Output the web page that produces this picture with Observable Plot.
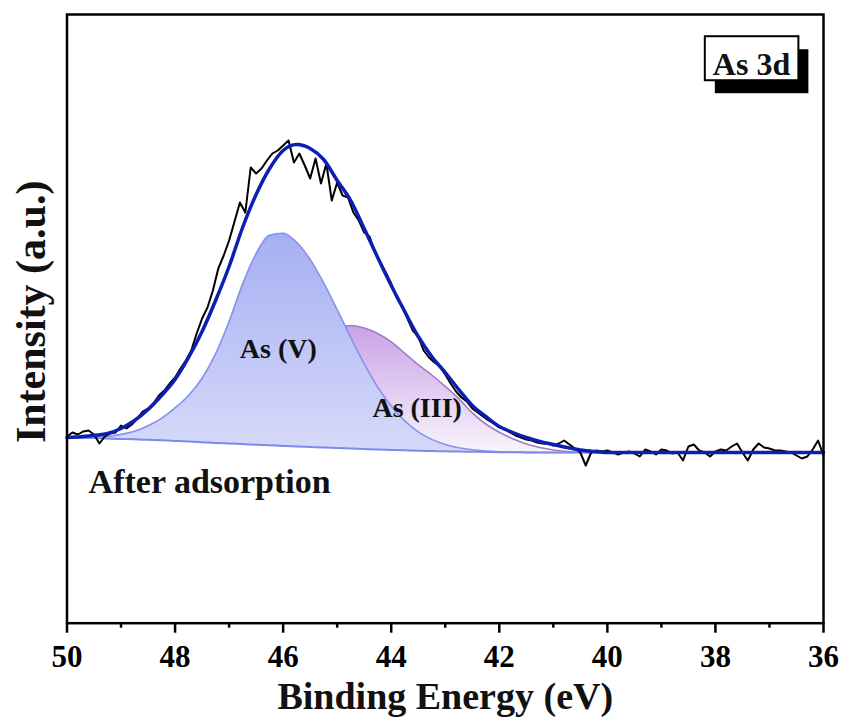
<!DOCTYPE html>
<html><head><meta charset="utf-8">
<script src="https://cdn.jsdelivr.net/npm/d3@7"></script>
<script src="https://cdn.jsdelivr.net/npm/@observablehq/plot@0.6"></script>
<style>body{margin:0;background:#fff;} svg{display:block}</style>
</head><body><div id="chart"></div>
<script>
// Binding energy grid for the fitted curves (eV)
const fitEnergy = [50,49.75,49.5,49.25,49,48.75,48.5,48.25,48,47.75,47.5,47.25,47,46.75,46.5,46.25,46,45.75,45.5,45.25,45,44.75,44.5,44.25,44,43.75,43.5,43.25,43,42.75,42.5,42.25,42,41.75,41.5,41.25,41,40.75,40.5,40.25,40,39,38,37,36];
// Shirley-type background (counts)
const background = [1857,1854,1851,1847,1843,1839,1834,1829,1823,1817,1810,1803,1797,1791,1785,1779,1773,1767,1762,1757,1752,1747,1742,1737,1733,1729,1725,1722,1719,1716,1714,1712,1710,1709,1708,1707,1707,1707,1707,1707,1707,1707,1707,1707,1707];
// As(V) component (counts)
const asV = [1857,1854,1859,1867,1888,1919,1974,2049,2153,2277,2450,2693,3017,3391,3695,3879,3900,3810,3638,3403,3135,2857,2594,2362,2171,2023,1914,1838,1787,1754,1734,1722,1715,1711,1708,1707,1707,1707,1707,1707,1707,1707,1707,1707,1707];
// As(III) component (counts)
const asIII = [1857,1854,1851,1847,1844,1841,1840,1845,1860,1890,1935,1990,2060,2150,2270,2410,2570,2717,2812,2877,2942,2977,2952,2897,2813,2699,2585,2482,2369,2246,2104,1992,1910,1844,1793,1757,1732,1717,1710,1707,1707,1707,1707,1707,1707];
// Fitted envelope (counts)
const envelope = [1857,1864,1879,1897,1947,2027,2137,2277,2437,2657,2917,3227,3567,3957,4287,4547,4727,4787,4747,4637,4427,4227,3947,3657,3377,3117,2867,2667,2507,2337,2177,2067,1967,1907,1857,1817,1787,1757,1732,1717,1707,1707,1707,1707,1707];
// Measured spectrum, 50 -> 36 eV in 0.1 eV steps (counts)
const rawCounts = [1867,1907,1887,1917,1927,1887,1797,1867,1897,1907,
1977,1947,1987,2047,2117,2147,2197,2277,2327,2397,
2457,2547,2627,2727,2897,3047,3157,3327,3547,3677,
3827,4017,4207,4107,4557,4497,4547,4627,4697,4727,
4777,4827,4607,4697,4577,4447,4647,4397,4597,4227,
4407,4277,4257,4107,4027,3907,3867,3707,3607,3507,
3397,3257,3177,3047,2927,2867,2727,2657,2607,2567,
2487,2397,2317,2257,2217,2147,2107,2067,2027,1997,
1957,1947,1907,1877,1857,1837,1827,1807,1797,1797,
1777,1797,1827,1787,1747,1707,1577,1707,1727,1717,
1727,1707,1687,1707,1717,1697,1667,1737,1717,1687,
1737,1727,1697,1707,1627,1767,1787,1727,1707,1667,
1717,1737,1727,1767,1797,1707,1627,1737,1797,1757,
1747,1727,1727,1717,1707,1677,1647,1667,1737,1827,
1677];
const rawStart = 50, rawStep = 0.1;
const rawEnergy = rawCounts.map((_, i) => +(rawStart - rawStep * i).toFixed(1));

const majorTicks = [50,48,46,44,42,40,38,36];
const minorTicks = [49,47,45,43,41,39,37];
const peakLabels = [
  {E: 46.09, I: 2737, label: "As (V)"},
  {E: 43.52, I: 2147, label: "As (III)"}
];
const sampleLabel = [{E: 49.6, I: 1407, label: "After adsorption"}];
const panelLabel = ["As 3d"];
const xTitle = ["Binding Energy (eV)"];
const yTitle = ["Intensity (a.u.)"];

const fit = fitEnergy.map((E, i) => ({E, bg: background[i], v: asV[i], iii: asIII[i], env: envelope[i]}));
const raw = rawEnergy.map((E, i) => ({E, I: rawCounts[i]}));

const serif = "'Liberation Serif','Times New Roman',Times,serif";
const chart = Plot.plot({
  width: 849, height: 726,
  marginLeft: 66.5, marginRight: 26, marginTop: 14, marginBottom: 103.3,
  x: {domain: [50, 36]},
  y: {domain: [0, 6087], axis: null},
  style: {fontFamily: serif, fontWeight: "bold", background: "#fff", color: "#000", overflow: "visible"},
  marks: [
    Plot.areaY(fit, {x: "E", y1: "bg", y2: "iii", fill: "url(#gIII)", curve: "monotone-x"}),
    Plot.lineY(fit, {x: "E", y: "iii", stroke: "#a07cc8", strokeWidth: 1.6, curve: "monotone-x"}),
    Plot.areaY(fit, {x: "E", y1: "bg", y2: "v", fill: "url(#gV)", curve: "monotone-x"}),
    Plot.lineY(fit, {x: "E", y: "v", stroke: "#8593ee", strokeWidth: 1.6, curve: "monotone-x"}),
    Plot.lineY(fit, {x: "E", y: "bg", stroke: "#7b8aec", strokeWidth: 2, curve: "monotone-x"}),
    Plot.lineY(raw, {x: "E", y: "I", stroke: "#000", strokeWidth: 2, strokeLinejoin: "round"}),
    Plot.lineY(fit, {x: "E", y: "env", stroke: "#0d1fb0", strokeWidth: 3.5, curve: "monotone-x"}),
    Plot.text(peakLabels, {x: "E", y: "I", text: "label", fontSize: 28, fill: "#111"}),
    Plot.text(sampleLabel, {x: "E", y: "I", text: "label", fontSize: 34, textAnchor: "start", fill: "#111"}),
    Plot.text(panelLabel, {frameAnchor: "top-right", dx: -72, dy: 38, fontSize: 32, textAnchor: "middle", fill: "#111"}),
    Plot.frame({stroke: "#000", strokeWidth: 2.5}),
    Plot.axisX({ticks: majorTicks, tickSize: 10, tickPadding: 12, fontSize: 31, tickFormat: d => String(d), label: null, strokeWidth: 2.5}),
    Plot.axisX({ticks: minorTicks, tickSize: 5, tickFormat: () => "", label: null, strokeWidth: 2.5}),
    Plot.text(xTitle, {frameAnchor: "bottom", textAnchor: "middle", dy: 86, fontSize: 38, fill: "#111"}),
    Plot.text(yTitle, {frameAnchor: "left", textAnchor: "middle", lineAnchor: "middle", rotate: -90, dx: -35, dy: -7, fontSize: 42, fill: "#111"})
  ]
});
document.getElementById("chart").append(chart);

// gradients for component fills
const svg = d3.select(chart);
const defs = svg.insert("defs", ":first-child");
const gV = defs.append("linearGradient").attr("id", "gV").attr("x1", 0).attr("y1", 0).attr("x2", 0).attr("y2", 1);
gV.append("stop").attr("offset", "0%").attr("stop-color", "#a6aff2");
gV.append("stop").attr("offset", "100%").attr("stop-color", "#d6daf9");
const gIII = defs.append("linearGradient").attr("id", "gIII").attr("x1", 0).attr("y1", 0).attr("x2", 0).attr("y2", 1);
gIII.append("stop").attr("offset", "0%").attr("stop-color", "#c9a2e6");
gIII.append("stop").attr("offset", "100%").attr("stop-color", "#f8f4fc");

// boxed panel label with drop shadow
const t = [...chart.querySelectorAll("text")].find(n => n.textContent === "As 3d");
if (t) {
  const r = t.getBoundingClientRect(), s = chart.getBoundingClientRect();
  const bx = r.left - s.left - 8, by = r.top - s.top - 10, bw = r.width + 16, bh = 44;
  const g = svg.insert("g", () => t.parentNode);
  g.append("rect").attr("x", bx + 10).attr("y", by + 13).attr("width", bw).attr("height", bh).attr("fill", "#000");
  g.append("rect").attr("x", bx).attr("y", by).attr("width", bw).attr("height", bh).attr("fill", "#fff").attr("stroke", "#000").attr("stroke-width", 2);
}
</script>
</body></html>
